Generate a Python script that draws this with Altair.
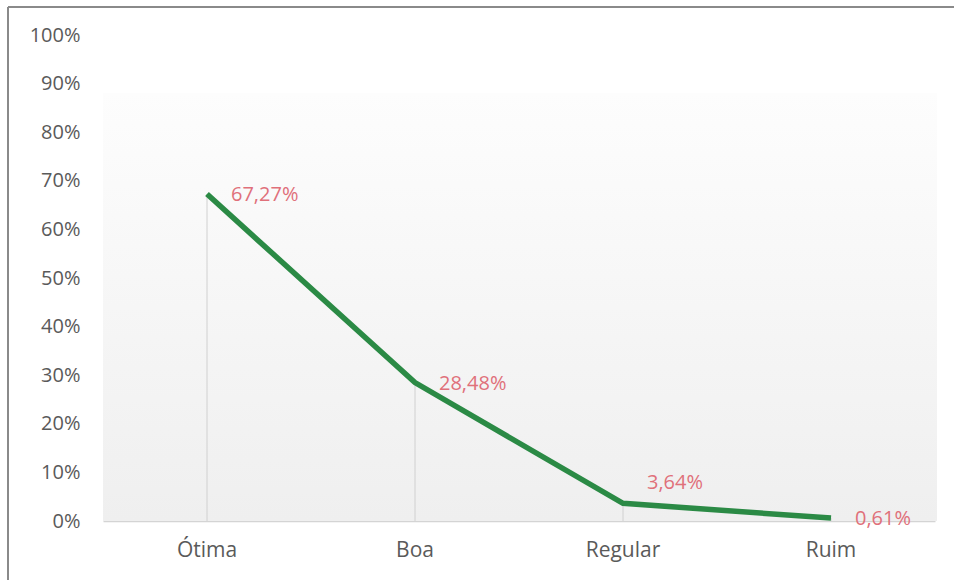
import altair as alt
import pandas as pd

categories = ["Ótima", "Boa", "Regular", "Ruim"]
values = [67.27, 28.48, 3.64, 0.61]
labels = ["67,27%", "28,48%", "3,64%", "0,61%"]
y_ticks = [0, 10, 20, 30, 40, 50, 60, 70, 80, 90, 100]

df = pd.DataFrame({"cat": categories, "val": values, "lab": labels})

W, H = 832, 486
FONT = "Open Sans"

x_enc = alt.X("cat:N", sort=categories, scale=alt.Scale(paddingInner=0, paddingOuter=0),
              axis=alt.Axis(title=None, labelAngle=0, ticks=False, labelPadding=18,
                            labelFont=FONT, labelFontSize=21, labelColor="#5a5a5a",
                            domainColor="#d4d4d4", domainWidth=1.5, grid=False))
y_enc = alt.Y("val:Q", scale=alt.Scale(domain=[0, 100], nice=False),
              axis=alt.Axis(title=None, values=y_ticks, labelExpr="datum.value + '%'",
                            ticks=False, domain=False, grid=False, labelPadding=23,
                            labelFont=FONT, labelFontSize=20, labelColor="#5a5a5a"))

grad = alt.Gradient(gradient="linear", x1=0, x2=0, y1=0, y2=1,
                    stops=[alt.GradientStop(offset=0, color="#fdfdfd"),
                           alt.GradientStop(offset=1, color="#efefef")])

base = alt.Chart(df)

bg = base.mark_rect(color=grad).encode(
    x=alt.value(0), x2=alt.value(W + 2), y=alt.value(58), y2=alt.value(H)
)

drops = base.mark_rule(color="#d0d0d0", strokeWidth=1).encode(
    x=x_enc, y=y_enc, y2=alt.datum(0)
)

line = base.mark_line(color="#2b8a45", strokeWidth=5.5).encode(x=x_enc, y=y_enc)

text_main = base.transform_filter(alt.datum.cat != "Regular").mark_text(
    align="left", baseline="middle", dx=24, dy=1, font=FONT, fontSize=20, color="#e0707a"
).encode(x=x_enc, y=y_enc, text="lab:N")

text_up = base.transform_filter(alt.datum.cat == "Regular").mark_text(
    align="left", baseline="middle", dx=24, dy=-20, font=FONT, fontSize=20, color="#e0707a"
).encode(x=x_enc, y=y_enc, text="lab:N")

frame_left = base.mark_rule(color="#8a8a8a", strokeWidth=2).encode(
    x=alt.value(-95), y=alt.value(-28), y2=alt.value(580)
)
frame_top = base.mark_rule(color="#8a8a8a", strokeWidth=2).encode(
    x=alt.value(-95), x2=alt.value(900), y=alt.value(-28)
)

chart = alt.layer(bg, drops, line, text_main, text_up, frame_left, frame_top).properties(
    width=W, height=H,
    autosize=alt.AutoSizeParams(type="none"),
    padding={"left": 103, "top": 35, "right": 19, "bottom": 59},
    background="white",
).configure_view(stroke=None)

chart.save("out.html", embed_options={"renderer": "svg", "actions": False})
